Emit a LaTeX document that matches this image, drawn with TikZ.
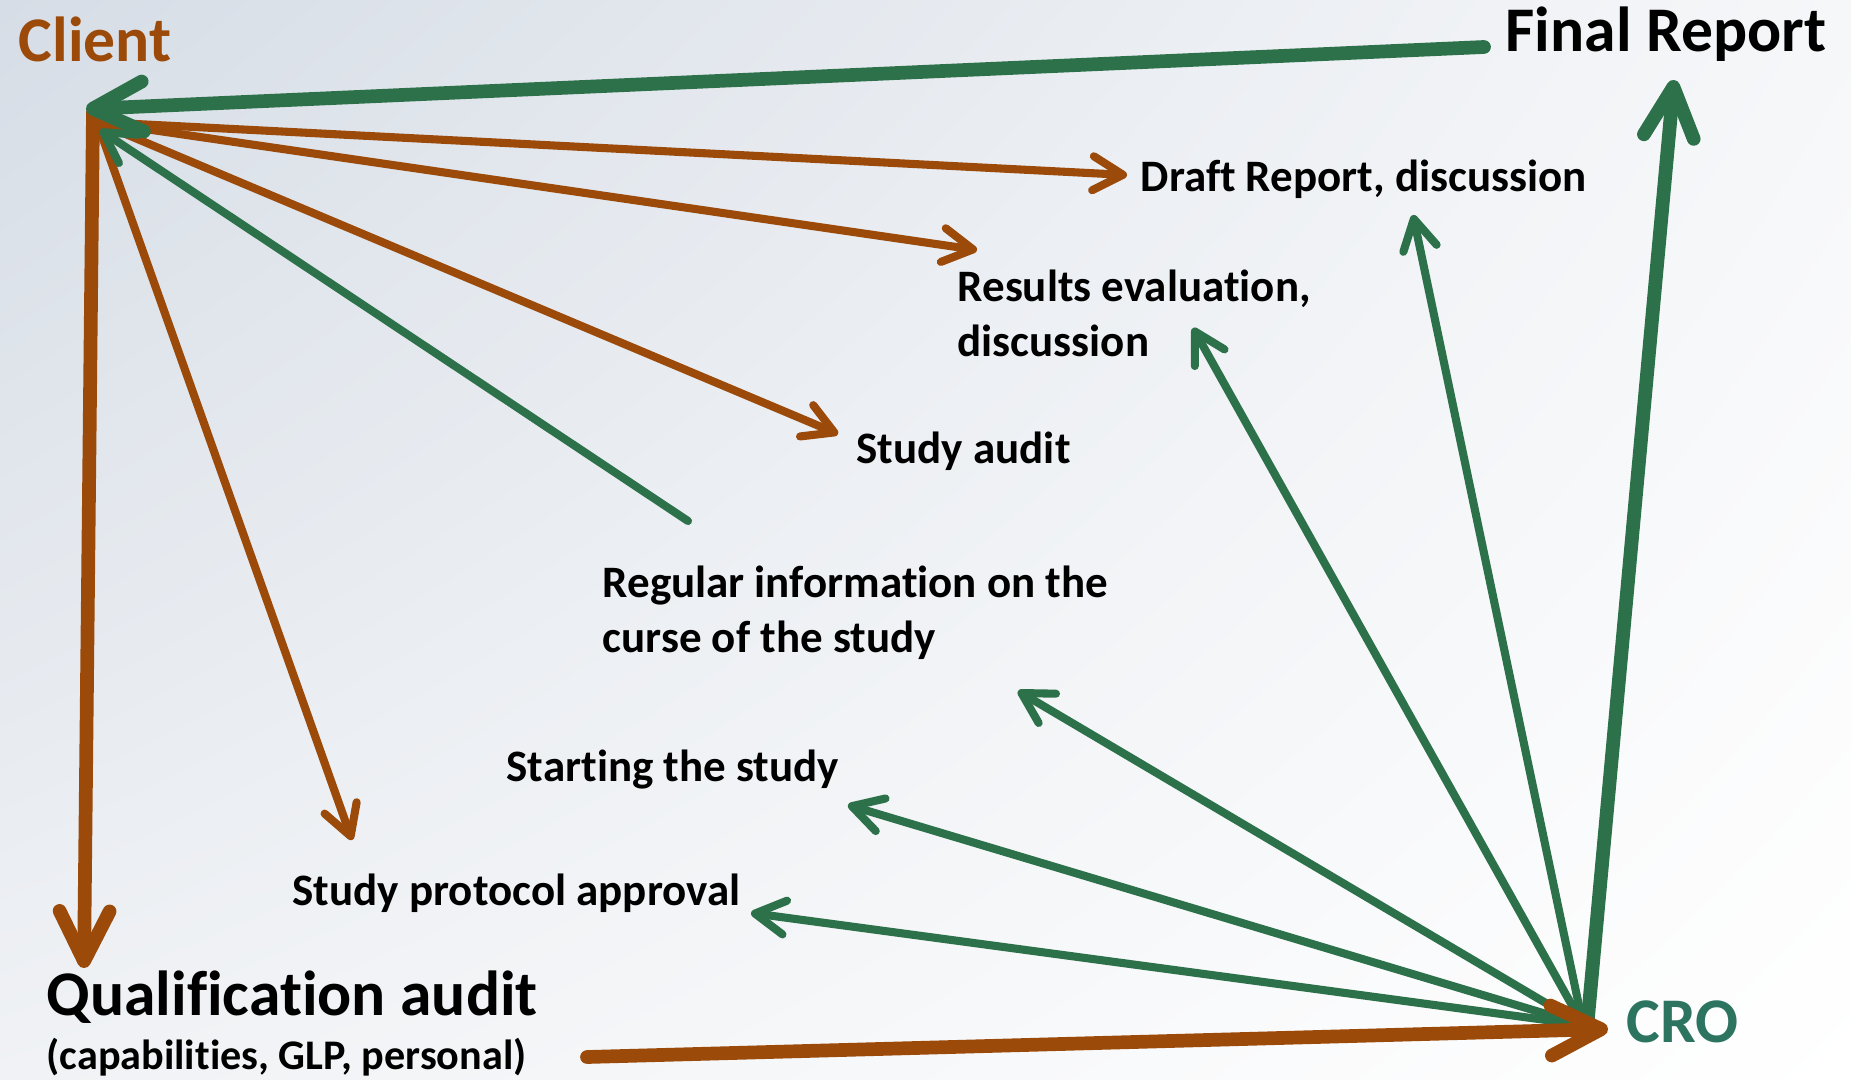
\documentclass[tikz,border=0pt]{standalone}
\usepackage{fontspec}
\setmainfont{Carlito}[Ligatures=NoCommon]
\usetikzlibrary{arrows.meta,shadings}
\definecolor{clientorange}{RGB}{155,74,10}
\definecolor{crogreen}{RGB}{45,113,74}
\definecolor{croteal}{RGB}{44,116,96}
\definecolor{bgul}{RGB}{214,221,230}
\definecolor{bgur}{RGB}{246,247,249}
\definecolor{bgll}{RGB}{240,242,245}
\pgfdeclarelayer{bglayer}
\pgfdeclarelayer{nodelayer}
\pgfdeclarelayer{edgelayer}
\pgfsetlayers{bglayer,edgelayer,nodelayer,main}
\tikzstyle{big label}=[anchor=base west, inner sep=0, font=\fontsize{18.1}{21}\selectfont\bfseries]
\tikzstyle{small label}=[anchor=base west, inner sep=0, align=left, font=\fontsize{12.8}{15.4}\selectfont\bfseries]
\tikzstyle{note label}=[anchor=base west, inner sep=0, font=\fontsize{12}{14}\selectfont\bfseries]
\tikzstyle{orange edge}=[draw=clientorange, line width=2.3pt, line cap=round, -{Straight Barb[round, length=3mm, width=3.4mm]}]
\tikzstyle{orange edge thick}=[draw=clientorange, line width=3.9pt, line cap=round, -{Straight Barb[round, length=5mm, width=5mm]}]
\tikzstyle{green edge}=[draw=crogreen, line width=2.3pt, line cap=round, -{Straight Barb[round, length=3mm, width=3.4mm]}]
\tikzstyle{green edge thick}=[draw=crogreen, line width=3.9pt, line cap=round, -{Straight Barb[round, length=5mm, width=5mm]}]

\begin{document}
\begin{tikzpicture}
	\useasboundingbox (0, 0) rectangle (18.51, -10.8);
	\begin{pgfonlayer}{bglayer}
		\shade [upper left=bgul, upper right=bgur, lower left=bgll, lower right=white] (0, 0) rectangle (18.51, -10.8);
	\end{pgfonlayer}
	\begin{pgfonlayer}{nodelayer}
		\node [style=big label, text=clientorange] (0) at (0.18, -0.62) {Client};
		\node [style=big label] (1) at (15.05, -0.52) {Final Report};
		\node [style=big label, text=croteal] (2) at (16.26, -10.42) {CRO};
		\node [style=big label] (3) at (0.46, -10.15) {Qualification audit};
		\node [style=note label] (4) at (0.46, -10.69) {(capabilities, GLP, personal)};
		\node [style=small label] (5) at (11.4, -1.92) {Draft Report, discussion};
		\node [style=small label] (6) at (9.57, -3.56) {Results evaluation,\\discussion};
		\node [style=small label] (7) at (8.56, -4.63) {Study audit};
		\node [style=small label] (8) at (6.02, -6.52) {Regular information on the\\curse of the study};
		\node [style=small label] (9) at (5.06, -7.81) {Starting the study};
		\node [style=small label] (10) at (2.92, -9.05) {Study protocol approval};
		% client side
		\coordinate (11) at (0.97, -1.22);
		\coordinate (12) at (0.93, -1.12);
		\coordinate (13) at (0.86, -1.09);
		\coordinate (14) at (1.0, -1.3);
		% cro side
		\coordinate (15) at (15.83, -10.25);
		\coordinate (16) at (15.87, -10.28);
		% free ends
		\coordinate (17) at (11.27, -1.75);
		\coordinate (18) at (9.77, -2.5);
		\coordinate (19) at (8.38, -4.34);
		\coordinate (20) at (3.52, -8.4);
		\coordinate (21) at (0.84, -9.68);
		\coordinate (22) at (14.84, -0.47);
		\coordinate (23) at (6.88, -5.21);
		\coordinate (24) at (16.74, -0.8);
		\coordinate (25) at (14.13, -2.15);
		\coordinate (26) at (11.93, -3.28);
		\coordinate (27) at (10.18, -6.91);
		\coordinate (28) at (8.48, -8.05);
		\coordinate (29) at (7.51, -9.13);
		\coordinate (30) at (5.87, -10.57);
		\coordinate (31) at (16.08, -10.29);
	\end{pgfonlayer}
	\begin{pgfonlayer}{edgelayer}
		\draw [style=orange edge] (11) to (17);
		\draw [style=orange edge] (11) to (18);
		\draw [style=orange edge] (11) to (19);
		\draw [style=orange edge] (11) to (20);
		\draw [style=orange edge thick] (12) to (21);
		\draw [style=green edge] (23) to (14);
		\draw [style=green edge thick] (22) to (13);
		\draw [style=green edge thick] (16) to (24);
		\draw [style=green edge] (15) to (25);
		\draw [style=green edge] (15) to (26);
		\draw [style=green edge] (15) to (27);
		\draw [style=green edge] (15) to (28);
		\draw [style=green edge] (15) to (29);
		\draw [style=orange edge thick] (30) to (31);
	\end{pgfonlayer}
\end{tikzpicture}
\end{document}
